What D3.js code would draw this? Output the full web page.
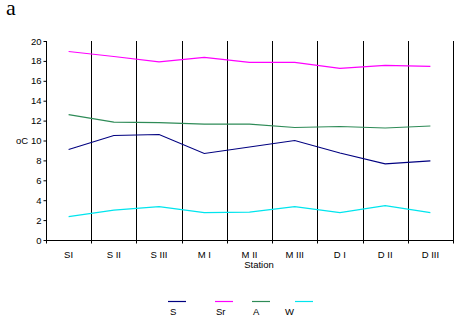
<!DOCTYPE html>
<html>
<head>
<meta charset="utf-8">
<script src="https://cdn.jsdelivr.net/npm/d3@7"></script>
<style>
  html, body { margin: 0; padding: 0; background: #fff; }
  svg { display: block; }
  text { font-family: "Liberation Sans", Arial, sans-serif; }
</style>
</head>
<body>
<svg id="chart" width="461" height="322"></svg>
<script>
// Stations along the transect
const stations = ["SI", "S II", "S III", "M I", "M II", "M III", "D I", "D II", "D III"];

// Temperature (oC) per season
const seriesS  = [9.1, 10.5, 10.6, 8.7, 9.35, 10.0, 8.75, 7.65, 7.95];
const seriesSr = [18.95, 18.45, 17.9, 18.35, 17.85, 17.85, 17.25, 17.55, 17.45];
const seriesA  = [12.6, 11.85, 11.8, 11.65, 11.65, 11.3, 11.4, 11.25, 11.45];
const seriesW  = [2.35, 3.0, 3.35, 2.75, 2.8, 3.35, 2.75, 3.45, 2.75];

const seriesNames  = ["S", "Sr", "A", "W"];
const seriesColors = ["#000080", "#ff00ff", "#2e8b57", "#00e5ee"];
const yTicks = [0, 2, 4, 6, 8, 10, 12, 14, 16, 18, 20];

const seriesData = [seriesS, seriesSr, seriesA, seriesW];

const svg = d3.select("#chart");
const plotLeft = 46, plotRight = 453, plotTop = 41, plotBottom = 240;

const x = d3.scaleBand().domain(stations).range([plotLeft, plotRight]).padding(0);
const y = d3.scaleLinear().domain([0, 20]).range([plotBottom, plotTop]);

// Panel letter
svg.append("text")
  .attr("x", 6).attr("y", 15)
  .style("font-family", "'Liberation Serif', 'Times New Roman', serif")
  .style("font-size", "22px")
  .text("a");

// Vertical separators between stations
const bounds = stations.map(s => x(s) + x.bandwidth());
svg.append("g").selectAll("line").data(bounds).join("line")
  .attr("x1", d => Math.round(d) + 0.5).attr("x2", d => Math.round(d) + 0.5)
  .attr("y1", plotTop).attr("y2", plotBottom)
  .attr("stroke", "#000").attr("stroke-width", 1);

// Y axis
const yAxis = d3.axisLeft(y).tickValues(yTicks).tickSize(3).tickPadding(2);
const gy = svg.append("g").attr("transform", `translate(${plotLeft + 0.5},0)`).call(yAxis);
gy.select(".domain").attr("d", `M0,${plotTop}V${plotBottom + 0.5}`);
gy.selectAll("text").style("font-size", "9.5px").style("font-family", "'Liberation Sans', Arial, sans-serif").attr("fill", "#000");

// X axis with ticks at station boundaries
const gx = svg.append("g").attr("transform", `translate(0,${plotBottom + 0.5})`);
gx.append("line").attr("x1", plotLeft).attr("x2", plotRight + 1).attr("stroke", "#000");
gx.selectAll("line.tk").data([plotLeft].concat(bounds)).join("line").attr("class", "tk")
  .attr("x1", d => Math.round(d) + 0.5).attr("x2", d => Math.round(d) + 0.5)
  .attr("y1", 0).attr("y2", 3).attr("stroke", "#000");
gx.selectAll("text").data(stations).join("text")
  .attr("x", d => x(d) + x.bandwidth() / 2)
  .attr("y", 17)
  .attr("text-anchor", "middle")
  .style("font-size", "9.5px")
  .text(d => d);

// Axis titles
svg.append("text").attr("x", 259).attr("y", 268).attr("text-anchor", "middle")
  .style("font-size", "9.5px").text("Station");
svg.append("text").attr("x", 16).attr("y", 144)
  .style("font-size", "9.5px").text("oC");

// Series lines
const line = d3.line().x((d, i) => x(stations[i]) + x.bandwidth() / 2).y(d => y(d));
svg.append("g").selectAll("path").data(seriesData).join("path")
  .attr("d", d => line(d))
  .attr("fill", "none")
  .attr("stroke", (d, i) => seriesColors[i])
  .attr("stroke-width", 1.1);

// Legend
const legendX = [168, 215, 252, 295];
const legendLabelX = [170, 216, 253, 285];
const lg = svg.append("g");
lg.selectAll("line").data(seriesNames).join("line")
  .attr("x1", (d, i) => legendX[i]).attr("x2", (d, i) => legendX[i] + 18)
  .attr("y1", 301.5).attr("y2", 301.5)
  .attr("stroke", (d, i) => seriesColors[i]).attr("stroke-width", 1.2);
lg.selectAll("text").data(seriesNames).join("text")
  .attr("x", (d, i) => legendLabelX[i]).attr("y", 315)
  .style("font-size", "9.5px")
  .text(d => d);
</script>
</body>
</html>
